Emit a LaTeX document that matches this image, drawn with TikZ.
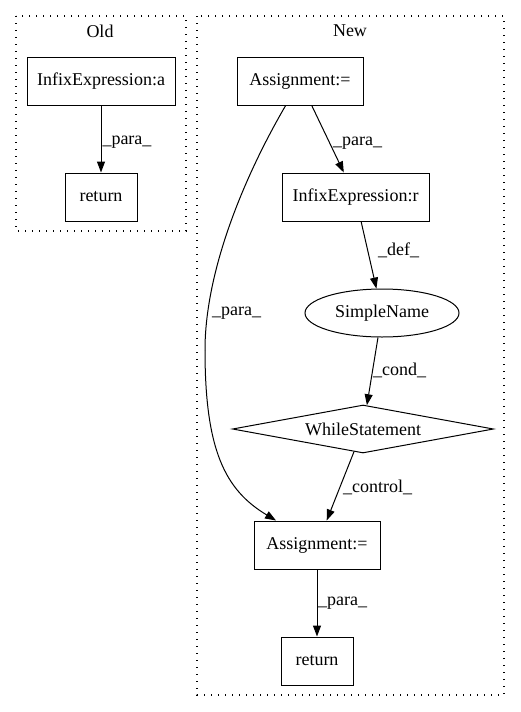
\documentclass[tikz,border=0pt]{standalone}
\usepackage{fontspec}
\setmainfont{Liberation Serif}
\usetikzlibrary{arrows.meta,shapes.geometric}
\begin{document}
\begin{tikzpicture}[x=1pt,y=-1pt,
  every node/.style={font=\fontsize{18}{20}\selectfont},
  box/.style={draw,line width=1.0pt,inner sep=0pt,minimum height=48pt},
  cluster/.style={draw,line width=1.2pt,dash pattern=on 1.2pt off 5.8pt},
  edge/.style={draw,line width=1.0pt,-{Triangle[length=11pt,width=8pt]}},
  elab/.style={inner sep=0pt,anchor=west}]
\useasboundingbox (0,0) rectangle (520,712);
% clusters
\draw[cluster] (16,16) rectangle (186,231);
\draw[cluster] (197,16) rectangle (504,695);
\node (oldlab) at (100,31) {Old};
\node (newlab) at (350,31) {New};
% Old
\node[box,minimum width=148pt] (ia) at (101,81) {InfixExpression:a};
\node[box,minimum width=72pt] (r1) at (101,197) {return};
\draw[edge] (ia) -- (r1) node[elab,pos=0.55,xshift=1pt] {\_para\_};
% New
\node[box,minimum width=126pt] (a1) at (300,81) {Assignment:=};
\node[box,minimum width=147pt] (ir) at (355.5,197) {InfixExpression:r};
\node[draw,ellipse,line width=1.0pt,inner sep=0pt,minimum width=154pt,minimum height=48pt] (sn) at (382,313) {SimpleName};
\node[draw,diamond,line width=1.0pt,inner sep=0pt,aspect=5.4,minimum width=261pt,minimum height=48pt] (ws) at (363,429) {WhileStatement};
\node[box,minimum width=126pt] (a2) at (317,545) {Assignment:=};
\node[box,minimum width=72pt] (r2) at (317,661) {return};
\coordinate (pm) at (205,350);
\draw[edge] (a1) -- (ir);
\node[elab] (l1) at (333,143) {\_para\_};
\draw[edge] (ir) -- (sn);
\node[elab] (l2) at (378,250) {\_def\_};
\draw[edge] (sn) -- (ws);
\node[elab] (l3) at (373,370) {\_cond\_};
\draw[edge] (ws) -- (a2);
\node[elab] (l4) at (343,487) {\_control\_};
\draw[edge] (a2) -- (r2);
\node[elab] (l5) at (318,603) {\_para\_};
\draw[line width=1.0pt] (a1) .. controls (245,175) and (205,270) .. (pm);
\draw[edge] (pm) .. controls (205,450) and (225,490) .. (a2);
\node[elab] (l6) at (212,313) {\_para\_};
\end{tikzpicture}
\end{document}
